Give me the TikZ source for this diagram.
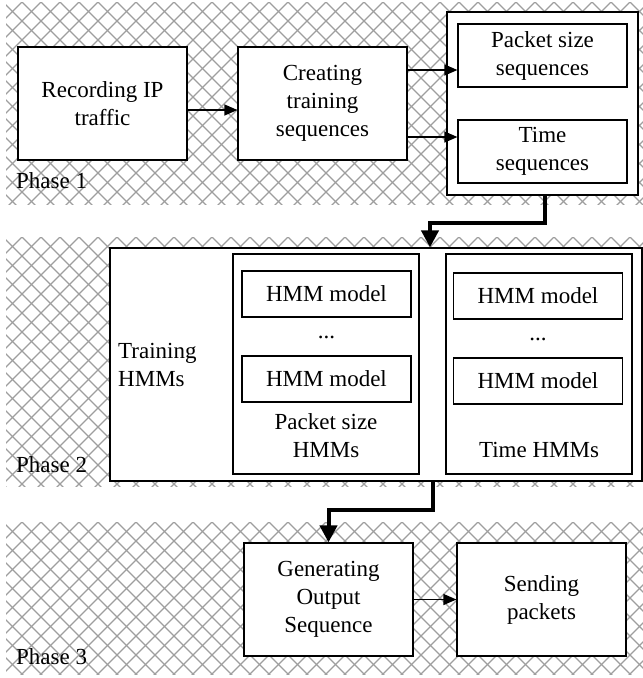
\documentclass[tikz,border=0pt]{standalone}
\usepackage{fontspec}
\setmainfont{Liberation Serif}
\usetikzlibrary{arrows.meta,calc}
\newcommand\hatchband[2]{%
  \begin{scope}
    \clip (6,#1) rectangle (643,#2);
    \foreach \k in {-18,...,52} {
      \draw[hatch] (\k*19+3,#1) -- ++(300,300);
      \draw[hatch] (\k*19+3,#1) -- ++(-300,300);
    }
  \end{scope}}
\begin{document}
\begin{tikzpicture}[x=1pt,y=-1pt,
  box/.style={draw,line width=1.2pt,fill=white,inner sep=0pt,align=center,font=\fontsize{23}{28}\selectfont},
  lbl/.style={inner sep=0pt,align=center,font=\fontsize{23}{28}\selectfont},
  arr/.style={-{Triangle[length=13pt,width=11pt]},line width=1.2pt},
  thk/.style={-{Triangle[length=17pt,width=17pt]},line width=4pt},
  hatch/.style={black!38,line width=1.3pt}]
\useasboundingbox (0,0) rectangle (643,678);
\fill[white] (0,0) rectangle (643,678);
% hatched bands
\hatchband{2}{204}
\hatchband{237}{486}
\hatchband{522}{674}

% Phase 1
\node[box,minimum width=169,minimum height=113] (rec) at (102.5,103.5) {Recording IP\\traffic};
\node[box,minimum width=169,minimum height=113] (cre) at (322.5,103.5) {Creating\\training\\sequences};
\node[box,minimum width=191,minimum height=183] (outer) at (542.5,103.5) {};
\node[box,minimum width=169,minimum height=63] (ps) at (542.5,55.5) {Packet size\\sequences};
\node[box,minimum width=169,minimum height=63] (ts) at (542.5,151.5) {Time\\sequences};
\node[lbl,anchor=base west] (ph1) at (16,188) {Phase 1};

\draw[arr] ([yshift=-6.5pt]rec.east) -- ([yshift=-6.5pt]rec.east -| cre.west);
\draw[arr] ([yshift=33.5pt]cre.east) -- ([yshift=33.5pt]cre.east -| ps.west);
\draw[arr] ([yshift=-33.5pt]cre.east) -- ([yshift=-33.5pt]cre.east -| ts.west);

% Phase 2
\node[box,minimum width=532,minimum height=233] (p2) at (376,364.5) {};
\node[box,minimum width=186,minimum height=220] (psh) at (326,364) {};
\node[box,minimum width=186,minimum height=220] (tsh) at (539,364) {};
\node[box,minimum width=169,minimum height=46] (m1) at (326.5,294) {HMM model};
\node[box,minimum width=169,minimum height=46] (m2) at (326.5,379) {HMM model};
\node[box,minimum width=169,minimum height=46] (m3) at (538,296) {HMM model};
\node[box,minimum width=169,minimum height=46] (m4) at (538,381) {HMM model};
\node[lbl] (d1) at (326.5,337) {...};
\node[lbl] (d2) at (538,339) {...};
\node[lbl] (pshl) at (326,436) {Packet size\\HMMs};
\node[lbl] (tshl) at (539,449.5) {Time HMMs};
\node[lbl,anchor=west,align=left] (trn) at (118,365) {Training\\HMMs};
\node[lbl,anchor=base west] (ph2) at (16,472) {Phase 2};

\draw[thk] ([xshift=2.5pt]outer.south) -- ++(0,27) -| ([xshift=54pt]p2.north);

% Phase 3
\node[box,minimum width=169,minimum height=113] (gen) at (328.5,599.5) {Generating\\Output\\Sequence};
\node[box,minimum width=169,minimum height=113] (snd) at (541.5,599.5) {Sending\\packets};
\node[lbl,anchor=base west] (ph3) at (16,664) {Phase 3};

\draw[thk] ([xshift=57pt]p2.south) -- ++(0,28) -| (gen.north);
\draw[arr] (gen.east) -- (snd.west);
\end{tikzpicture}
\end{document}
